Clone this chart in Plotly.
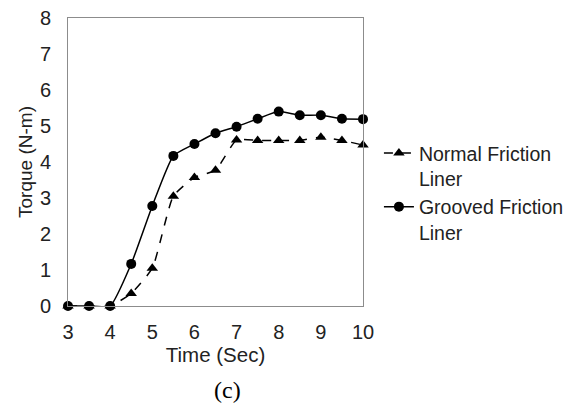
import plotly.graph_objects as go

time = [3, 3.5, 4, 4.5, 5, 5.5, 6, 6.5, 7, 7.5, 8, 8.5, 9, 9.5, 10]
normal = [0, 0, 0, 0.35, 1.05, 3.05, 3.57, 3.77, 4.61, 4.6, 4.6, 4.6, 4.69, 4.6, 4.47]
grooved = [0, 0, 0, 1.17, 2.78, 4.17, 4.5, 4.8, 4.98, 5.2, 5.4, 5.3, 5.3, 5.2, 5.19]

FONT = "Liberation Sans, Arial, sans-serif"
TXT = "#222222"

fig = go.Figure()
fig.add_trace(go.Scatter(
    x=time, y=normal, name="Normal Friction<br>Liner",
    mode="lines+markers",
    line=dict(color="black", width=1.5, dash="dash", shape="spline", smoothing=0.5),
    marker=dict(symbol="triangle-up", size=10, color="black"),
    cliponaxis=False,
))
fig.add_trace(go.Scatter(
    x=time, y=grooved, name="Grooved Friction<br>Liner",
    mode="lines+markers",
    line=dict(color="black", width=1.5, shape="spline", smoothing=0.5),
    marker=dict(symbol="circle", size=10, color="black"),
    cliponaxis=False,
))

fig.update_layout(
    width=575, height=405,
    margin=dict(l=68, r=212, t=18, b=99, autoexpand=False),
    paper_bgcolor="white", plot_bgcolor="white",
    font=dict(family=FONT, size=20, color=TXT),
    showlegend=True,
    legend=dict(
        x=1.054, y=0.598, xanchor="left", yanchor="top",
        bgcolor="rgba(0,0,0,0)", valign="top",
        font=dict(family=FONT, size=19.5, color=TXT),
        tracegroupgap=0, itemwidth=30,
    ),
    xaxis=dict(
        range=[3, 10], dtick=1, tick0=3,
        showgrid=False, zeroline=False,
        showline=True, mirror=True, linecolor="#8c8c8c", linewidth=1,
        ticks="", ticklabelstandoff=8,
        title=dict(text="Time (Sec)", standoff=5, font=dict(size=20.5)),
    ),
    yaxis=dict(
        range=[0, 8], dtick=1,
        showgrid=False, zeroline=False,
        showline=True, mirror=True, linecolor="#8c8c8c", linewidth=1,
        ticks="", ticklabelstandoff=12,
        title=dict(text="Torque (N-m)", standoff=2, font=dict(size=19)),
    ),
    annotations=[dict(
        text="(c)", xref="paper", yref="paper", x=0.539, y=-0.292,
        xanchor="center", yanchor="middle", showarrow=False,
        font=dict(family="Liberation Serif, Times New Roman, serif", size=24, color="black"),
    )],
)

fig.write_html("out.html")
